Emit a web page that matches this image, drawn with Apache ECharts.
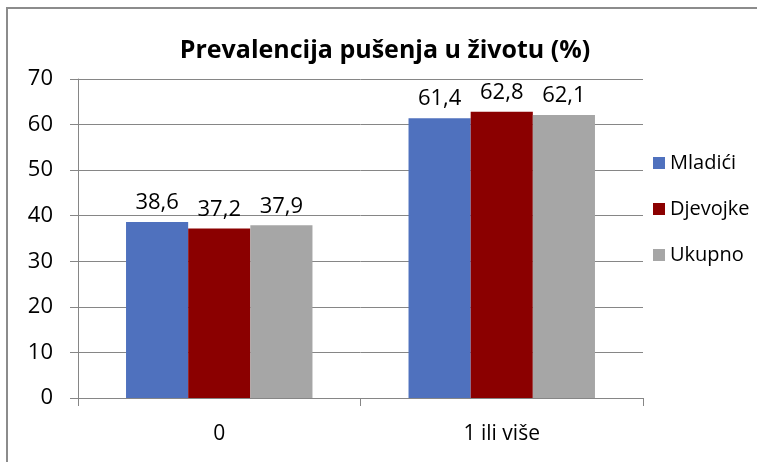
<!DOCTYPE html>
<html>
<head>
<meta charset="utf-8">
<script src="https://cdn.jsdelivr.net/npm/echarts@6/dist/echarts.min.js"></script>
<style>
  html, body { margin: 0; padding: 0; background: #fff; }
  #wrap { position: relative; width: 757px; height: 462px; overflow: hidden; }
  #frame { position: absolute; left: 6px; top: 7px; width: 800px; height: 500px; border: 2px solid #8c8c8c; box-sizing: border-box; }
  #chart { position: absolute; left: 0; top: 0; width: 757px; height: 462px; }
</style>
</head>
<body>
<div id="wrap">
  <div id="frame"></div>
  <div id="chart"></div>
</div>
<script>
const categories = ['0', '1 ili više'];
const seriesNames = ['Mladići', 'Djevojke', 'Ukupno'];
const mladici = [38.6, 61.4];
const djevojke = [37.2, 62.8];
const ukupno = [37.9, 62.1];
const colors = ['#4f71be', '#8b0000', '#a6a6a6'];

const FONT = '"Open Sans", Lato, sans-serif';
const GRID_COLOR = '#868686';

const chart = echarts.init(document.getElementById('chart'), null, { renderer: 'canvas' });

function barSeries(name, data, color) {
  return {
    name: name,
    type: 'bar',
    data: data,
    barGap: '0%',
    barCategoryGap: '34%',
    itemStyle: { color: color },
    label: {
      show: true,
      position: 'top',
      distance: 8,
      color: '#000',
      fontFamily: FONT,
      fontSize: 22,
      formatter: (p) => p.value.toFixed(1).replace('.', ',')
    }
  };
}

chart.setOption({
  animation: false,
  color: colors,
  title: {
    text: 'Prevalencija pušenja u životu (%)',
    left: 380,
    textAlign: 'center',
    top: 33,
    textStyle: { fontFamily: FONT, fontWeight: 'bold', fontSize: 25, color: '#000' }
  },
  legend: {
    orient: 'vertical',
    left: 648,
    top: 148,
    itemWidth: 12,
    itemHeight: 12,
    itemGap: 26,
    icon: 'rect',
    textStyle: { fontFamily: FONT, fontSize: 20, color: '#000' },
    data: seriesNames
  },
  grid: { left: 78, right: 114, top: 79, bottom: 64 },
  xAxis: {
    type: 'category',
    data: categories,
    axisLine: { lineStyle: { color: GRID_COLOR, width: 1 } },
    axisTick: { show: true, length: 8, lineStyle: { color: GRID_COLOR } },
    axisLabel: { fontFamily: FONT, fontSize: 21, color: '#000', margin: 26 }
  },
  yAxis: {
    type: 'value',
    min: 0,
    max: 70,
    interval: 10,
    axisLine: { show: true, lineStyle: { color: GRID_COLOR, width: 1 } },
    axisTick: { show: true, length: 8, lineStyle: { color: GRID_COLOR } },
    axisLabel: { fontFamily: FONT, fontSize: 22, color: '#000', margin: 25 },
    splitLine: { lineStyle: { color: GRID_COLOR, width: 1 } }
  },
  series: [
    barSeries(seriesNames[0], mladici, colors[0]),
    barSeries(seriesNames[1], djevojke, colors[1]),
    barSeries(seriesNames[2], ukupno, colors[2])
  ]
});
</script>
</body>
</html>
